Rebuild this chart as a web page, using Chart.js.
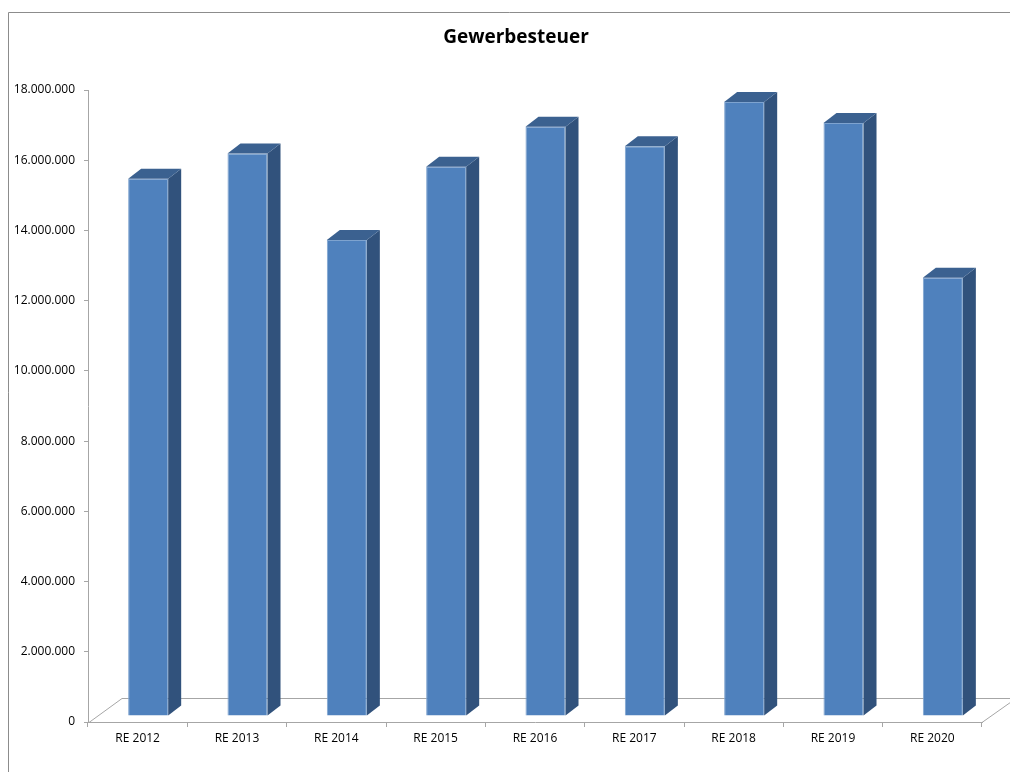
<!DOCTYPE html>
<html>
<head>
<meta charset="utf-8">
<title>Gewerbesteuer</title>
<script src="https://cdn.jsdelivr.net/npm/chart.js@4.4.1/dist/chart.umd.min.js"></script>
<style>
  html, body { margin: 0; padding: 0; background: #fff; overflow: hidden; }
  #wrap { width: 1010px; height: 772px; }
</style>
</head>
<body>
<div id="wrap"><canvas id="chart" width="1010" height="772"></canvas></div>
<script>
const years = ['RE 2012', 'RE 2013', 'RE 2014', 'RE 2015', 'RE 2016', 'RE 2017', 'RE 2018', 'RE 2019', 'RE 2020'];
const steuer = [15300000, 16020000, 13560000, 15640000, 16780000, 16230000, 17490000, 16890000, 12480000];
const yMax = 18000000;
const yStep = 2000000;
const titleText = 'Gewerbesteuer';

// depth of the pseudo-3D columns and of the floor
const DEPTH = { dx: 13, dy: 10 };
const FLOOR = { dx: 34, dy: 24 };
const SHIFT = { x: 10.5, y: -6 };

const fmt = (v) => v.toLocaleString('de-DE');

const frame3d = {
  id: 'frame3d',
  beforeDraw(chart) {
    const ctx = chart.ctx;
    ctx.save();
    ctx.strokeStyle = '#8c8c8c';
    ctx.lineWidth = 1;
    ctx.beginPath();
    ctx.moveTo(8.5, 772);
    ctx.lineTo(8.5, 12.5);
    ctx.lineTo(1010, 12.5);
    ctx.stroke();
    // title, centred on the whole chart box (which runs past the right edge)
    ctx.fillStyle = '#000';
    ctx.font = 'bold 19px "Open Sans"';
    ctx.textAlign = 'center';
    ctx.textBaseline = 'middle';
    ctx.fillText(titleText, 516, 38);
    ctx.restore();
  },
  beforeDatasetsDraw(chart) {
    const { ctx, chartArea: a } = chart;
    ctx.save();
    ctx.strokeStyle = '#a6a6a6';
    ctx.lineWidth = 1;
    ctx.beginPath();
    ctx.moveTo(a.left + 1, a.bottom + 0.5);
    ctx.lineTo(a.left + FLOOR.dx, a.bottom - FLOOR.dy + 0.5);
    ctx.lineTo(a.right + FLOOR.dx, a.bottom - FLOOR.dy + 0.5);
    ctx.moveTo(a.right, a.bottom + 0.5);
    ctx.lineTo(a.right + FLOOR.dx, a.bottom - FLOOR.dy + 0.5);
    ctx.stroke();
    ctx.restore();
    ctx.save();
    ctx.translate(SHIFT.x, SHIFT.y);
  },
  afterDatasetsDraw(chart) {
    const ctx = chart.ctx;
    ctx.restore();
    const meta = chart.getDatasetMeta(0);
    ctx.save();
    ctx.translate(SHIFT.x, SHIFT.y);
    meta.data.forEach((bar) => {
      const { x, y, base, width } = bar.getProps(['x', 'y', 'base', 'width'], true);
      const l = x - width / 2, r = x + width / 2;
      // side face
      ctx.fillStyle = '#31527c';
      ctx.beginPath();
      ctx.moveTo(r, y);
      ctx.lineTo(r + DEPTH.dx, y - DEPTH.dy);
      ctx.lineTo(r + DEPTH.dx, base - DEPTH.dy);
      ctx.lineTo(r, base);
      ctx.closePath();
      ctx.fill();
      // top face
      ctx.fillStyle = '#3b6190';
      ctx.beginPath();
      ctx.moveTo(l, y);
      ctx.lineTo(l + DEPTH.dx, y - DEPTH.dy);
      ctx.lineTo(r + DEPTH.dx, y - DEPTH.dy);
      ctx.lineTo(r, y);
      ctx.closePath();
      ctx.fill();
    });
    ctx.restore();
  }
};

new Chart(document.getElementById('chart'), {
  type: 'bar',
  data: {
    labels: years,
    datasets: [{
      data: steuer,
      backgroundColor: '#4f81bd',
      borderColor: '#7ea3cf',
      borderWidth: 1,
      categoryPercentage: 1,
      barPercentage: 0.403
    }]
  },
  options: {
    responsive: false,
    animation: false,
    layout: { padding: { left: 8, right: 28, top: 90, bottom: 20 } },
    plugins: {
      legend: { display: false },
      tooltip: { enabled: false },
      title: { display: false }
    },
    scales: {
      x: {
        offset: true,
        grid: { display: true, offset: true, drawOnChartArea: false, drawTicks: true, tickLength: 5, color: '#a6a6a6' },
        border: { display: true, color: '#a6a6a6' },
        ticks: { color: '#000', font: { family: 'Open Sans', size: 12 }, padding: 4, maxRotation: 0 },
        afterFit(s) { s.height = 30; }
      },
      y: {
        min: 0,
        max: yMax,
        grid: { display: true, drawOnChartArea: false, drawTicks: true, tickLength: 4, color: '#a6a6a6' },
        border: { display: true, color: '#a6a6a6' },
        ticks: {
          stepSize: yStep,
          color: '#000',
          font: { family: 'Open Sans', size: 12 },
          padding: 9,
          callback: (v) => fmt(v)
        },
        afterFit(s) { s.width = 80; }
      }
    }
  },
  plugins: [frame3d]
});
</script>
</body>
</html>
